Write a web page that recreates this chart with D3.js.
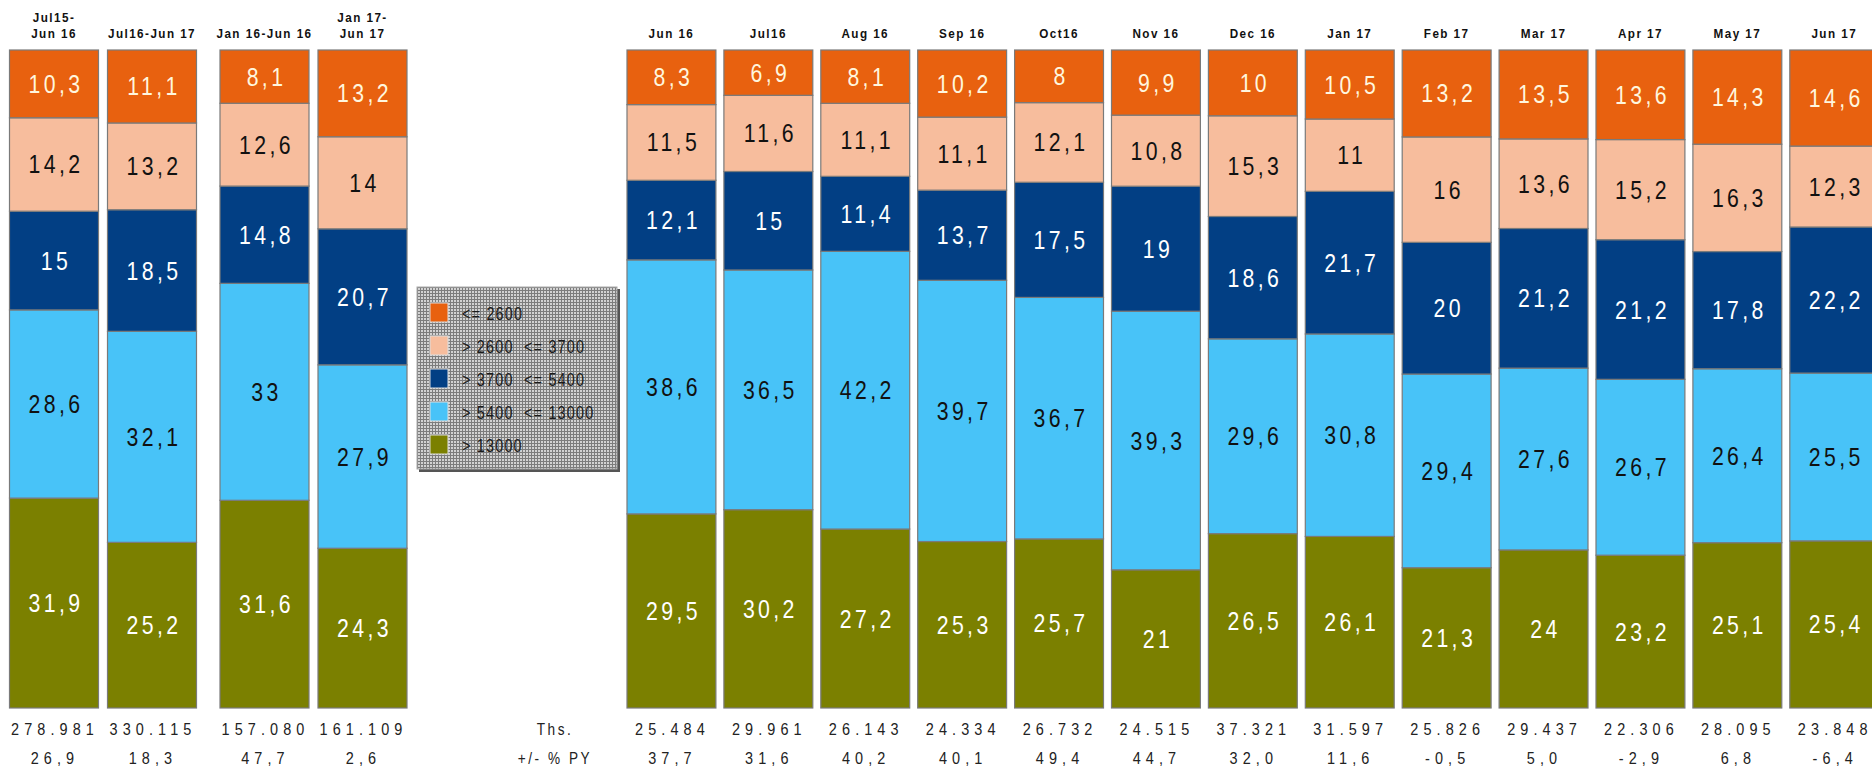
<!DOCTYPE html>
<html>
<head>
<meta charset="utf-8">
<script src="https://cdn.jsdelivr.net/npm/d3@7"></script>
<style>
  body { margin: 0; background: #fff; }
  svg { display: block; }
  text { font-family: "Liberation Sans", Arial, sans-serif; }
</style>
</head>
<body>
<svg width="1872" height="769"></svg>
<script>
// bar names (top header), "\n" = line break
const annual = ['Jul15-\nJun 16', 'Jul16-Jun 17'];
const halfYear = ['Jan 16-Jun 16', 'Jan 17-\nJun 17'];
const months = ['Jun 16', 'Jul16', 'Aug 16', 'Sep 16', 'Oct16', 'Nov 16', 'Dec 16', 'Jan 17',
                'Feb 17', 'Mar 17', 'Apr 17', 'May 17', 'Jun 17'];

// shares in %, same order as annual + halfYear + months
const le2600   = [10.3, 11.1, 8.1, 13.2, 8.3, 6.9, 8.1, 10.2, 8, 9.9, 10, 10.5, 13.2, 13.5, 13.6, 14.3, 14.6];
const to3700   = [14.2, 13.2, 12.6, 14, 11.5, 11.6, 11.1, 11.1, 12.1, 10.8, 15.3, 11, 16, 13.6, 15.2, 16.3, 12.3];
const to5400   = [15, 18.5, 14.8, 20.7, 12.1, 15, 11.4, 13.7, 17.5, 19, 18.6, 21.7, 20, 21.2, 21.2, 17.8, 22.2];
const to13000  = [28.6, 32.1, 33, 27.9, 38.6, 36.5, 42.2, 39.7, 36.7, 39.3, 29.6, 30.8, 29.4, 27.6, 26.7, 26.4, 25.5];
const gt13000  = [31.9, 25.2, 31.6, 24.3, 29.5, 30.2, 27.2, 25.3, 25.7, 21, 26.5, 26.1, 21.3, 24, 23.2, 25.1, 25.4];

// totals (Ths.) and change vs previous year
const totals = ['278.981', '330.115', '157.080', '161.109', '25.484', '29.961', '26.143', '24.334', '26.732',
                '24.515', '37.321', '31.597', '25.826', '29.437', '22.306', '28.095', '23.848'];
const changePY = ['26,9', '18,3', '47,7', '2,6', '37,7', '31,6', '40,2', '40,1', '49,4', '44,7', '32,0',
                  '11,6', '-0,5', '5,0', '-2,9', '6,8', '-6,4'];
const rowLabels = ['Ths.', '+/- % PY'];

const legendLabels = ['<= 2600', '> 2600  <= 3700', '> 3700  <= 5400', '> 5400  <= 13000', '> 13000'];

const svg = d3.select('svg');

// series, top to bottom
const series = [
  {key: 'le2600',  values: le2600,  color: '#E8610F', text: '#FFF6DE'},
  {key: 'to3700',  values: to3700,  color: '#F7BD9D', text: '#111'},
  {key: 'to5400',  values: to5400,  color: '#023F84', text: '#fff'},
  {key: 'to13000', values: to13000, color: '#48C3F8', text: '#111'},
  {key: 'gt13000', values: gt13000, color: '#7B8000', text: '#fff'}
];

const categories = annual.concat(halfYear, months);
const table = categories.map((c, i) => {
  const row = {cat: c};
  series.forEach(s => row[s.key] = s.values[i]);
  return row;
});

// olive at bottom -> stack reversed, each bar fills 100%
const stack = d3.stack()
  .keys(series.map(s => s.key).reverse())
  .offset(d3.stackOffsetExpand);
const stacked = stack(table);

const barTop = 50, barBottom = 708;
const y = d3.scaleLinear().domain([0, 1]).range([barBottom, barTop]);

// three bar groups
const makeBand = (dom, start, step, gap) => d3.scaleBand()
  .domain(dom)
  .range([start, start + dom.length * step - gap])
  .paddingInner(gap / step)
  .paddingOuter(0);

const xAnnual = makeBand(annual, 9.5, 98, 9);
const xHalf = makeBand(halfYear, 220, 98, 9);
const xMonth = makeBand(months, 627, 96.9, 8);

const xPos = c => annual.includes(c) ? xAnnual(c) : halfYear.includes(c) ? xHalf(c) : xMonth(c);
const bw = c => annual.includes(c) ? xAnnual.bandwidth() : halfYear.includes(c) ? xHalf.bandwidth() : xMonth.bandwidth();
const xMid = c => xPos(c) + bw(c) / 2;

const colorOf = d3.scaleOrdinal().domain(series.map(s => s.key)).range(series.map(s => s.color));
const textOf = d3.scaleOrdinal().domain(series.map(s => s.key)).range(series.map(s => s.text));

const fmt = v => String(v).replace('.', ',');
const narrow = 0.85; // squeeze text horizontally, the original font is condensed

// bars
const layer = svg.append('g').selectAll('g').data(stacked).join('g')
  .attr('fill', d => colorOf(d.key));

layer.selectAll('rect').data(d => d).join('rect')
  .attr('x', d => xPos(d.data.cat))
  .attr('y', d => y(d[1]))
  .attr('width', d => bw(d.data.cat))
  .attr('height', d => y(d[0]) - y(d[1]))
  .attr('stroke', '#7a7a7a')
  .attr('stroke-width', 1.2);

// segment labels
const lab = svg.append('g').selectAll('g').data(stacked).join('g');
lab.selectAll('text').data(d => d.map(p => ({p, key: d.key}))).join('text')
  .attr('transform', d => `translate(${xMid(d.p.data.cat) + 2},${(y(d.p[0]) + y(d.p[1])) / 2 + 9}) scale(${narrow},1)`)
  .attr('text-anchor', 'middle')
  .attr('font-size', 25)
  .attr('letter-spacing', 4)
  .attr('fill', d => textOf(d.key))
  .text(d => fmt(d.p.data[d.key]));

// header labels
svg.append('g').selectAll('text').data(categories).join('text')
  .attr('transform', c => `translate(${xMid(c)},0) scale(0.9,1)`)
  .attr('text-anchor', 'middle')
  .attr('font-size', 13)
  .attr('font-weight', 'bold')
  .attr('letter-spacing', 1.6)
  .attr('fill', '#111')
  .each(function(c) {
    const lines = c.split('\n');
    const t = d3.select(this);
    lines.forEach((ln, i) => {
      t.append('tspan')
        .attr('x', 0)
        .attr('y', 38 - (lines.length - 1 - i) * 16)
        .text(ln);
    });
  });

// bottom rows
const bottomRow = (data, yy) => svg.append('g').selectAll('text').data(data).join('text')
  .attr('transform', (d, i) => `translate(${xMid(categories[i]) + 1},${yy}) scale(${narrow},1)`)
  .attr('text-anchor', 'middle')
  .attr('font-size', 17)
  .attr('letter-spacing', 6)
  .attr('fill', '#222')
  .text(d => d);

bottomRow(totals, 735);
bottomRow(changePY, 764);

svg.append('g').selectAll('text').data(rowLabels).join('text')
  .attr('transform', (d, i) => `translate(555,${i === 0 ? 735 : 764}) scale(${narrow},1)`)
  .attr('text-anchor', 'middle')
  .attr('font-size', 16)
  .attr('letter-spacing', 3)
  .attr('fill', '#222')
  .text(d => d);

// legend
const defs = svg.append('defs');
const pat = defs.append('pattern')
  .attr('id', 'dots')
  .attr('width', 3).attr('height', 3)
  .attr('patternUnits', 'userSpaceOnUse');
pat.append('rect').attr('width', 3).attr('height', 3).attr('fill', '#d2d2d2');
pat.append('rect').attr('width', 3).attr('height', 1).attr('fill', '#7c7c7c');
pat.append('rect').attr('width', 1).attr('height', 3).attr('fill', '#7c7c7c');

const lg = svg.append('g').attr('transform', 'translate(417,287)');
lg.append('rect').attr('x', 2).attr('y', 2).attr('width', 201).attr('height', 183).attr('fill', '#555');
lg.append('rect').attr('width', 200).attr('height', 182).attr('fill', 'url(#dots)')
  .attr('stroke', '#aaa').attr('stroke-width', 1);

const items = lg.selectAll('g.item').data(series).join('g')
  .attr('class', 'item')
  .attr('transform', (d, i) => `translate(13,${16 + i * 33})`);
items.append('rect')
  .attr('width', 18).attr('height', 19)
  .attr('fill', d => d.color)
  .attr('stroke', '#ddd').attr('stroke-width', 1);
items.append('text')
  .attr('transform', 'translate(32,17) scale(0.8,1)')
  .attr('font-size', 18)
  .attr('letter-spacing', 1.5)
  .attr('fill', '#1a1a1a')
  .attr('xml:space', 'preserve')
  .style('white-space', 'pre')
  .text((d, i) => legendLabels[i]);
</script>
</body>
</html>
